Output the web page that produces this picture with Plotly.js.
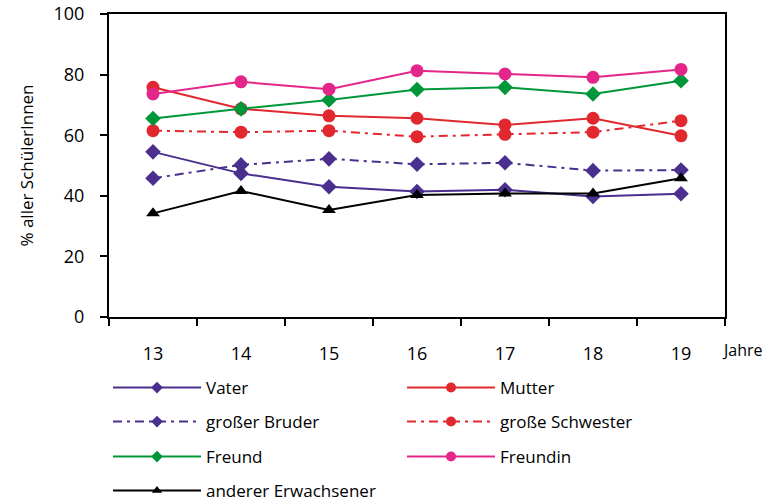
<!DOCTYPE html>
<html>
<head>
<meta charset="utf-8">
<script src="https://cdn.plot.ly/plotly-3.0.1.min.js"></script>
<style>html,body{margin:0;padding:0;background:#fff}#chart{width:772px;height:501px}</style>
</head>
<body>
<div id="chart"></div>
<script>
const years = ["13", "14", "15", "16", "17", "18", "19"];
const vater = [54.5, 47.4, 43.0, 41.4, 42.0, 39.8, 40.7];
const grosserBruder = [45.8, 50.2, 52.2, 50.4, 50.9, 48.3, 48.5];
const mutter = [75.8, 68.7, 66.4, 65.6, 63.4, 65.6, 59.8];
const grosseSchwester = [61.5, 61.0, 61.5, 59.5, 60.3, 61.0, 64.8];
const freund = [65.5, 68.7, 71.6, 75.1, 75.8, 73.6, 78.0];
const freundin = [73.6, 77.6, 75.2, 81.3, 80.2, 79.1, 81.7];
const andererErwachsener = [34.2, 41.6, 35.3, 40.3, 40.8, 40.8, 45.8];

const purple = "#4a2f8e";
const red = "#e2282f";
const pink = "#e4268a";
const green = "#00973a";
const black = "#000000";
const dashDot = "9px,5px,3px,5px";

const series = [
  {name: "Vater", y: vater, color: purple, dash: "solid", symbol: "diamond", size: 12, legend: "legend"},
  {name: "Mutter", y: mutter, color: red, dash: "solid", symbol: "circle", size: 13, legend: "legend"},
  {name: "großer Bruder", y: grosserBruder, color: purple, dash: dashDot, symbol: "diamond", size: 12, legend: "legend2"},
  {name: "große Schwester", y: grosseSchwester, color: red, dash: dashDot, symbol: "circle", size: 13, legend: "legend2"},
  {name: "Freund", y: freund, color: green, dash: "solid", symbol: "diamond", size: 12, legend: "legend3"},
  {name: "Freundin", y: freundin, color: pink, dash: "solid", symbol: "circle", size: 13, legend: "legend3"},
  {name: "anderer Erwachsener", y: andererErwachsener, color: black, dash: "solid", symbol: "triangle-up", size: 12, legend: "legend4"}
];

const data = [];
series.forEach(s => {
  data.push({
    type: "scatter", mode: "lines+markers", name: s.name, x: years, y: s.y,
    line: {color: s.color, width: 2, dash: s.dash},
    marker: {color: s.color, symbol: s.symbol, size: s.size},
    showlegend: false
  });
});
// legend entries with smaller symbols
series.forEach(s => {
  data.push({
    type: "scatter", mode: "lines+markers", name: s.name, x: [null], y: [null],
    line: {color: s.color, width: 2, dash: s.dash},
    marker: {color: s.color, symbol: s.symbol, size: s.symbol === "circle" ? 10 : 9},
    legend: s.legend, showlegend: true
  });
});

function lg(py) {
  return {
    orientation: "h", xref: "container", x: 108 / 772, xanchor: "left",
    yref: "container", y: 1 - py / 501, yanchor: "middle",
    font: {family: "Open Sans, sans-serif", size: 17, color: "#000"},
    itemwidth: 88, entrywidth: 191, entrywidthmode: "pixels",
    bgcolor: "rgba(0,0,0,0)", itemclick: false, borderwidth: 0
  };
}

const layout = {
  width: 772, height: 501,
  margin: {l: 109, r: 47, t: 14, b: 184},
  paper_bgcolor: "#fff", plot_bgcolor: "#fff",
  font: {family: "Open Sans, sans-serif", size: 16, color: "#000"},
  showlegend: true,
  legend: lg(388), legend2: lg(422), legend3: lg(457), legend4: lg(491),
  xaxis: {
    type: "category", range: [-0.5, 6.5], tickson: "boundaries",
    ticks: "outside", ticklen: 7, tickwidth: 2, tickcolor: "#000",
    showline: true, linecolor: "#000", linewidth: 2, mirror: true,
    showgrid: false, zeroline: false, ticklabelstandoff: 19,
    tickfont: {size: 18}, automargin: false
  },
  yaxis: {
    range: [0, 100], dtick: 20, ticks: "outside", ticklen: 7, tickwidth: 2, tickcolor: "#000",
    showline: true, linecolor: "#000", linewidth: 2, mirror: true,
    showgrid: false, zeroline: false, tickfont: {size: 18}, automargin: false,
    ticklabelstandoff: 12,
    title: {text: "% aller SchülerInnen", font: {size: 17}, standoff: 16}
  },
  annotations: [{
    text: "Jahre", xref: "paper", yref: "paper", x: (742 - 109) / 616, y: (317 - 350) / 303,
    showarrow: false, xanchor: "center", yanchor: "middle", font: {size: 16}
  }]
};

Plotly.newPlot("chart", data, layout, {displayModeBar: false, staticPlot: true});
</script>
</body>
</html>
